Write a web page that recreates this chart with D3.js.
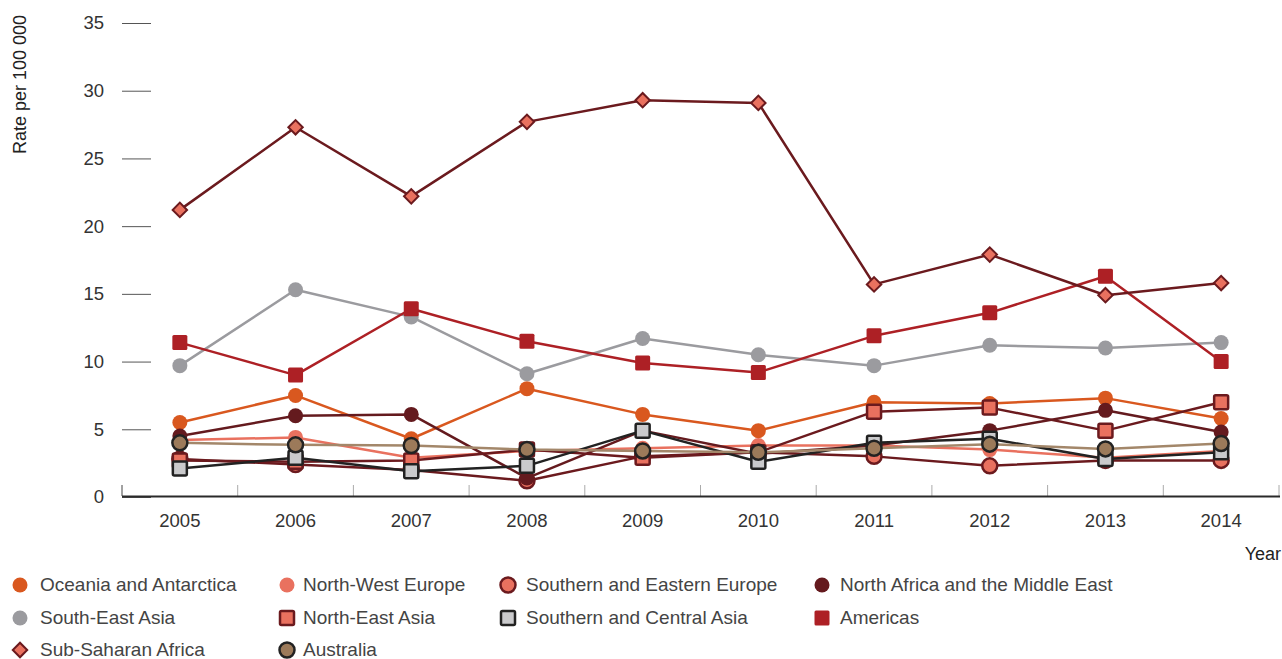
<!DOCTYPE html>
<html>
<head>
<meta charset="utf-8">
<script src="https://cdn.jsdelivr.net/npm/d3@7"></script>
<style>
  html, body { margin: 0; padding: 0; background: #fff; }
  svg { display: block; font-family: "Liberation Sans", Arial, sans-serif; }
</style>
</head>
<body>
<svg id="chart" width="1282" height="659"></svg>
<script>
const years = [2005, 2006, 2007, 2008, 2009, 2010, 2011, 2012, 2013, 2014];
const yTicks = [0, 5, 10, 15, 20, 25, 30, 35];

const oceania     = [5.5, 7.5, 4.3, 8.0, 6.1, 4.9, 7.0, 6.9, 7.3, 5.8];
const nwEurope    = [4.2, 4.4, 2.9, 3.4, 3.6, 3.8, 3.8, 3.5, 2.9, 3.4];
const seEurope    = [2.8, 2.4, 2.0, 1.2, 3.0, 3.3, 3.0, 2.3, 2.7, 2.7];
const northAfrica = [4.5, 6.0, 6.1, 1.4, 4.9, 3.2, 3.8, 4.9, 6.4, 4.8];
const seAsia      = [9.7, 15.3, 13.3, 9.1, 11.7, 10.5, 9.7, 11.2, 11.0, 11.4];
const neAsia      = [2.7, 2.6, 2.7, 3.5, 2.9, 3.3, 6.3, 6.6, 4.9, 7.0];
const scAsia      = [2.1, 2.9, 1.9, 2.3, 4.9, 2.6, 4.0, 4.3, 2.8, 3.3];
const americas    = [11.4, 9.0, 13.9, 11.5, 9.9, 9.2, 11.9, 13.6, 16.3, 10.0];
const subSaharan  = [21.2, 27.3, 22.2, 27.7, 29.3, 29.1, 15.7, 17.9, 14.9, 15.8];
const australia   = [4.0, 3.85, 3.8, 3.5, 3.4, 3.3, 3.6, 3.9, 3.55, 3.95];

const seriesNames = ["Oceania and Antarctica", "North-West Europe", "Southern and Eastern Europe",
  "North Africa and the Middle East", "South-East Asia", "North-East Asia",
  "Southern and Central Asia", "Americas", "Sub-Saharan Africa", "Australia"];
const seriesValues = [oceania, nwEurope, seEurope, northAfrica, seAsia, neAsia, scAsia, americas, subSaharan, australia];

const styles = [
  {shape: "circle",  fill: "#d9581f", stroke: "none",    line: "#d9581f"},
  {shape: "circle",  fill: "#e9715f", stroke: "none",    line: "#e9715f"},
  {shape: "circle",  fill: "#e9715f", stroke: "#6b1a1e", line: "#6b1a1e"},
  {shape: "circle",  fill: "#641a1e", stroke: "none",    line: "#641a1e"},
  {shape: "circle",  fill: "#9b9b9f", stroke: "none",    line: "#9b9b9f"},
  {shape: "square",  fill: "#e9715f", stroke: "#6b1a1e", line: "#6b1a1e"},
  {shape: "square",  fill: "#cacacc", stroke: "#222222", line: "#222222"},
  {shape: "square",  fill: "#ad2025", stroke: "none",    line: "#ad2025"},
  {shape: "diamond", fill: "#e9715f", stroke: "#6b1a1e", line: "#6b1a1e"},
  {shape: "circle",  fill: "#9c7a5a", stroke: "#222222", line: "#a3876a"}
];

const svg = d3.select("#chart");
const x = d3.scaleBand().domain(years).range([122, 1279]).paddingInner(0).paddingOuter(0);
const y = d3.scaleLinear().domain([0, 35]).range([497, 23]);
const cx = d => x(d) + x.bandwidth() / 2;

// Y axis (detached tick lines)
const yAxis = svg.append("g").attr("transform", "translate(151,0)")
  .call(d3.axisLeft(y).tickValues(yTicks).tickSize(29).tickPadding(18));
yAxis.select(".domain").remove();
yAxis.selectAll("line").attr("stroke", "#555").attr("stroke-width", 1);
yAxis.selectAll("text").attr("fill", "#333").style("font-size", "18.5px");

svg.append("text").attr("transform", "translate(26,15) rotate(-90)")
  .attr("text-anchor", "end").attr("fill", "#222").style("font-size", "18px")
  .text("Rate per 100 000");

// X axis
const xAxis = svg.append("g").attr("transform", "translate(0,497)")
  .call(d3.axisBottom(x).tickSize(0).tickPadding(17));
xAxis.select(".domain").remove();
xAxis.selectAll("text").attr("fill", "#333").style("font-size", "18.5px");
const bounds = years.map(d => x(d)).concat([x(years[years.length - 1]) + x.bandwidth()]);
svg.append("g").selectAll("line").data(bounds).join("line")
  .attr("x1", d => d).attr("x2", d => d).attr("y1", 485).attr("y2", 496)
  .attr("stroke", (d, i) => i === 0 ? "#444" : "#aaa").attr("stroke-width", 1);
svg.append("line").attr("x1", 122).attr("x2", 1280).attr("y1", 496.5).attr("y2", 496.5)
  .attr("stroke", "#2a2a2a").attr("stroke-width", 2.2);
svg.append("text").attr("x", 1281).attr("y", 560).attr("text-anchor", "end")
  .attr("fill", "#222").style("font-size", "18px").text("Year");

function drawMarker(g, shape, st, size) {
  const sw = st.stroke === "none" ? 0 : 2.5;
  if (shape === "circle") {
    g.append("circle").attr("r", size / 2).attr("fill", st.fill)
      .attr("stroke", st.stroke).attr("stroke-width", sw);
  } else if (shape === "square") {
    const s = size - (sw ? 1 : 0);
    g.append("rect").attr("x", -s / 2).attr("y", -s / 2).attr("width", s).attr("height", s)
      .attr("rx", 1.5).attr("fill", st.fill).attr("stroke", st.stroke).attr("stroke-width", sw);
  } else {
    const s = size * 0.68;
    g.append("rect").attr("x", -s / 2).attr("y", -s / 2).attr("width", s).attr("height", s)
      .attr("transform", "rotate(45)").attr("fill", st.fill)
      .attr("stroke", st.stroke).attr("stroke-width", 2);
  }
}

const line = d3.line().x((d, i) => cx(years[i])).y(d => y(d));
const plot = svg.append("g");
seriesValues.forEach((vals, si) => {
  const st = styles[si];
  const g = plot.append("g");
  g.append("path").datum(vals).attr("d", line).attr("fill", "none")
    .attr("stroke", st.line).attr("stroke-width", 2.5).attr("stroke-linejoin", "round");
  vals.forEach((v, i) => {
    const m = g.append("g").attr("transform", `translate(${cx(years[i])},${y(v)})`);
    drawMarker(m, st.shape, st, 15);
  });
});

// Legend
const legCols = [20, 287, 508, 822];
const legTextX = [40, 303, 526, 840];
const legRows = [585, 618, 650];
const legend = svg.append("g");
seriesNames.forEach((name, i) => {
  const col = i % 4, row = Math.floor(i / 4);
  const gy = legRows[row];
  const g = legend.append("g").attr("transform", `translate(${legCols[col]},${gy})`);
  drawMarker(g, styles[i].shape, styles[i], 15);
  legend.append("text").attr("x", legTextX[col]).attr("y", gy + 6).attr("fill", "#444")
    .style("font-size", "19px").text(name);
});
</script>
</body>
</html>
